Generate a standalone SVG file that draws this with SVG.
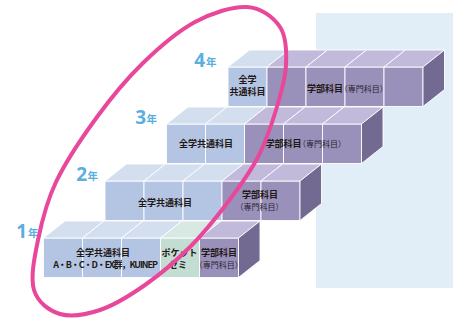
<svg xmlns="http://www.w3.org/2000/svg" width="453" height="322" viewBox="0 0 453 322">
<style>
.b{fill:#b3c5e3}.bt{fill:#d3deef}
.p{fill:#9a91bb}.pt{fill:#c1badb}.ps{fill:#736a92}
.g{fill:#c3ddd3}.gt{fill:#d8e8e2}
.c{stroke:#ffffff;stroke-width:0.9;stroke-linejoin:round}
.t{font-family:"Noto Sans CJK JP","Noto Sans",sans-serif;font-weight:700;font-size:9px;fill:#231815;text-anchor:middle}
.s{font-family:"Noto Sans CJK JP","Noto Sans",sans-serif;font-weight:400;font-size:8px;fill:#2a2230;text-anchor:middle}
.yn{font-family:"Noto Sans","Open Sans",sans-serif;font-weight:700;font-size:19px;fill:#5aaee0}
.yk{font-family:"Noto Sans CJK JP",sans-serif;font-weight:700;font-size:10.5px;fill:#5aaee0}
</style>
<rect id="panel" x="316" y="13" width="137" height="275" fill="#e2eef7"/>

<g id="row4">
<rect class="b c" x="228" y="67" width="39" height="39.5"/>
<rect class="p c" x="267" y="67" width="39" height="39.5"/>
<rect class="p c" x="306" y="67" width="39" height="39.5"/>
<rect class="p c" x="345" y="67" width="39" height="39.5"/>
<rect class="p c" x="384" y="67" width="39" height="39.5"/>
<polygon class="bt c" points="228,67 249.5,50 288.5,50 267,67"/>
<polygon class="pt c" points="267,67 288.5,50 327.5,50 306,67"/>
<polygon class="pt c" points="306,67 327.5,50 366.5,50 345,67"/>
<polygon class="pt c" points="345,67 366.5,50 405.5,50 384,67"/>
<polygon class="pt c" points="384,67 405.5,50 444.5,50 423,67"/>
<polygon class="ps c" points="423,67 444.5,50 444.5,89.5 423,106.5"/>
<text class="t" x="247.5" y="82.5">全学<tspan x="247.5" dy="12">共通科目</tspan></text>
<text class="t" x="325" y="91.5">学部科目</text>
<text class="s" x="363.7" y="91.5">（専門科目）</text>
</g>

<g id="row3">
<rect class="b c" x="166.5" y="124" width="39" height="39.5"/>
<rect class="b c" x="205.5" y="124" width="39" height="39.5"/>
<rect class="p c" x="244.5" y="124" width="39" height="39.5"/>
<rect class="p c" x="283.5" y="124" width="39" height="39.5"/>
<rect class="p c" x="322.5" y="124" width="39" height="39.5"/>
<polygon class="bt c" points="166.5,124 188,107 227,107 205.5,124"/>
<polygon class="bt c" points="205.5,124 227,107 266,107 244.5,124"/>
<polygon class="pt c" points="244.5,124 266,107 305,107 283.5,124"/>
<polygon class="pt c" points="283.5,124 305,107 344,107 322.5,124"/>
<polygon class="pt c" points="322.5,124 344,107 383,107 361.5,124"/>
<polygon class="ps c" points="361.5,124 383,107 383,146.5 361.5,163.5"/>
<text class="t" x="206" y="146.5">全学共通科目</text>
<text class="t" x="283.5" y="146.5">学部科目</text>
<text class="s" x="322" y="146.5">（専門科目）</text>
</g>

<g id="row2">
<rect class="b c" x="105" y="181" width="39" height="39.5"/>
<rect class="b c" x="144" y="181" width="39" height="39.5"/>
<rect class="b c" x="183" y="181" width="39" height="39.5"/>
<rect class="p c" x="222" y="181" width="39" height="39.5"/>
<rect class="p c" x="261" y="181" width="39" height="39.5"/>
<polygon class="bt c" points="105,181 126.5,164 165.5,164 144,181"/>
<polygon class="bt c" points="144,181 165.5,164 204.5,164 183,181"/>
<polygon class="bt c" points="183,181 204.5,164 243.5,164 222,181"/>
<polygon class="pt c" points="222,181 243.5,164 282.5,164 261,181"/>
<polygon class="pt c" points="261,181 282.5,164 321.5,164 300,181"/>
<polygon class="ps c" points="300,181 321.5,164 321.5,203.5 300,220.5"/>
<text class="t" x="165" y="205.5">全学共通科目</text>
<text class="t" x="260" y="198">学部科目<tspan class="s" x="259.5" dy="12">（専門科目）</tspan></text>
</g>

<g id="row1">
<rect class="b c" x="43.5" y="238" width="39" height="39.5"/>
<rect class="b c" x="82.5" y="238" width="39" height="39.5"/>
<rect class="b c" x="121.5" y="238" width="39" height="39.5"/>
<rect class="g c" x="160.5" y="238" width="39" height="39.5"/>
<rect class="p c" x="199.5" y="238" width="39" height="39.5"/>
<polygon class="bt c" points="43.5,238 65,221 104,221 82.5,238"/>
<polygon class="bt c" points="82.5,238 104,221 143,221 121.5,238"/>
<polygon class="bt c" points="121.5,238 143,221 182,221 160.5,238"/>
<polygon class="gt c" points="160.5,238 182,221 221,221 199.5,238"/>
<polygon class="pt c" points="199.5,238 221,221 260,221 238.5,238"/>
<polygon class="ps c" points="238.5,238 260,221 260,260.5 238.5,277.5"/>
<text class="t" x="105" y="267.5" font-size="7.8" font-weight="400" letter-spacing="-1.1">A・B・C・D・EX群，KUINEP</text>
<text class="t" x="103" y="256">全学共通科目</text>
<text class="t" x="179.5" y="255.5">ポケット<tspan x="178" dy="12">ゼミ</tspan></text>
<text class="t" x="219" y="256">学部科目<tspan class="s" x="218.8" dy="11.5" font-size="7.6">（専門科目）</tspan></text>
</g>

<g id="years">
<text class="yn" x="205" y="66.5" text-anchor="end">4</text><text class="yk" x="206" y="65.5">年</text>
<text class="yn" x="146" y="124" text-anchor="end">3</text><text class="yk" x="146.5" y="123">年</text>
<text class="yn" x="87" y="181" text-anchor="end">2</text><text class="yk" x="87.5" y="180">年</text>
<text class="yn" x="27" y="238" text-anchor="end">1</text><text class="yk" x="28" y="237">年</text>
</g>

<g id="highlight">
<path d="M247,7 C261.2,7.8 273.5,17.3 280,27 C286.5,36.7 286.7,51.2 286,65 C285.3,78.8 280.7,94.7 276,110 C271.3,125.3 266,141.7 258,157 C250,172.3 239.3,187 228,202 C216.7,217 203.8,233.2 190,247 C176.2,260.8 160,274.5 145,285 C130,295.5 114.2,305.2 100,310 C85.8,314.8 71,317.3 60,314 C49,310.7 37.7,302.3 34,290 C30.3,277.7 34.3,258 38,240 C41.7,222 46.2,202.5 56,182 C65.8,161.5 82.5,136.8 97,117 C111.5,97.2 126.7,78.8 143,63 C159.3,47.2 177.7,31.3 195,22 C212.3,12.7 232.8,6.2 247,7 Z" fill="none" stroke="#e8479a" stroke-width="4"/>
</g>
</svg>
